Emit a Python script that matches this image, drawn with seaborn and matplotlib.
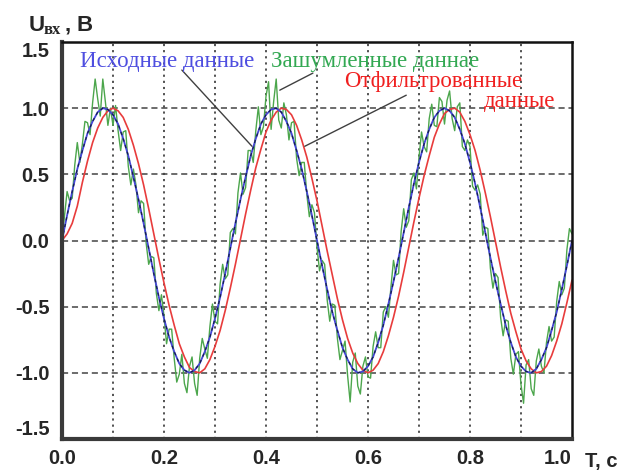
import numpy as np
import pandas as pd
import matplotlib
matplotlib.use("Agg")
import matplotlib.pyplot as plt
import seaborn as sns

# values, 0.01 s step (blue, red) and 0.005 s step (green)
source = [0.00, 0.19, 0.37, 0.54, 0.68, 0.81, 0.90, 0.97, 1.00, 0.99,
          0.95, 0.88, 0.77, 0.64, 0.48, 0.31, 0.13, -0.06, -0.25, -0.43,
          -0.59, -0.73, -0.84, -0.93, -0.98, -1.00, -0.98, -0.93, -0.84, -0.73,
          -0.59, -0.43, -0.25, -0.06, 0.13, 0.31, 0.48, 0.64, 0.77, 0.88,
          0.95, 0.99, 1.00, 0.97, 0.90, 0.81, 0.68, 0.54, 0.37, 0.19,
          0.00, -0.19, -0.37, -0.54, -0.68, -0.81, -0.90, -0.97, -1.00, -0.99,
          -0.95, -0.88, -0.77, -0.64, -0.48, -0.31, -0.13, 0.06, 0.25, 0.43,
          0.59, 0.73, 0.84, 0.93, 0.98, 1.00, 0.98, 0.93, 0.84, 0.73,
          0.59, 0.43, 0.25, 0.06, -0.13, -0.31, -0.48, -0.64, -0.77, -0.88,
          -0.95, -0.99, -1.00, -0.97, -0.90, -0.81, -0.68, -0.54, -0.37, -0.19,
          0.00]

filtered = [0.00, 0.05, 0.13, 0.26, 0.44, 0.60, 0.74, 0.85, 0.93, 0.98,
            1.00, 0.98, 0.93, 0.84, 0.72, 0.58, 0.42, 0.24, 0.05, -0.14,
            -0.32, -0.49, -0.64, -0.78, -0.88, -0.96, -0.99, -1.00, -0.97, -0.90,
            -0.80, -0.68, -0.53, -0.36, -0.18, 0.01, 0.20, 0.38, 0.55, 0.69,
            0.82, 0.91, 0.97, 1.00, 0.99, 0.95, 0.87, 0.76, 0.63, 0.47,
            0.30, 0.11, -0.08, -0.26, -0.44, -0.60, -0.74, -0.85, -0.93, -0.98,
            -1.00, -0.98, -0.93, -0.84, -0.72, -0.58, -0.42, -0.24, -0.05, 0.14,
            0.32, 0.49, 0.64, 0.78, 0.88, 0.96, 0.99, 1.00, 0.97, 0.90,
            0.80, 0.68, 0.53, 0.36, 0.18, -0.01, -0.20, -0.38, -0.55, -0.69,
            -0.82, -0.91, -0.97, -1.00, -0.99, -0.95, -0.87, -0.76, -0.63, -0.47,
            -0.30]

noisy = [0.00, 0.19, 0.37, 0.30, 0.32, 0.57, 0.74, 0.59, 0.73, 0.90,
         0.89, 0.80, 1.04, 1.22, 1.07, 0.94, 1.22, 1.05, 0.87, 1.00,
         0.87, 1.02, 0.83, 0.68, 0.82, 0.83, 0.56, 0.42, 0.54, 0.42,
         0.21, 0.30, 0.28, -0.02, -0.18, -0.12, -0.13, -0.40, -0.53, -0.41,
         -0.57, -0.78, -0.67, -0.67, -0.89, -1.07, -1.01, -0.86, -1.08, -1.15,
         -0.95, -0.88, -1.08, -1.17, -0.89, -0.74, -0.82, -0.89, -0.65, -0.48,
         -0.61, -0.63, -0.33, -0.18, -0.29, -0.26, 0.06, 0.09, 0.05, 0.36,
         0.51, 0.35, 0.40, 0.68, 0.68, 0.59, 0.83, 1.01, 0.80, 0.86,
         1.09, 1.20, 0.84, 1.05, 1.22, 0.91, 0.85, 1.04, 0.95, 0.76,
         0.89, 0.90, 0.62, 0.49, 0.59, 0.59, 0.35, 0.18, 0.27, 0.21,
         -0.05, -0.23, -0.15, -0.18, -0.45, -0.61, -0.48, -0.49, -0.74, -0.90,
         -0.83, -0.76, -1.02, -1.22, -0.92, -0.85, -1.10, -1.16, -0.95, -0.88,
         -1.03, -1.04, -0.80, -0.69, -0.81, -0.81, -0.54, -0.50, -0.58, -0.35,
         -0.15, -0.26, -0.25, 0.07, 0.24, 0.10, 0.15, 0.46, 0.51, 0.39,
         0.63, 0.82, 0.71, 0.67, 0.92, 1.03, 0.87, 0.86, 1.08, 1.05,
         0.88, 1.06, 1.13, 0.92, 0.83, 1.01, 1.04, 0.71, 0.68, 0.76,
         0.71, 0.41, 0.38, 0.42, 0.35, 0.04, 0.10, 0.09, -0.21, -0.36,
         -0.25, -0.28, -0.58, -0.72, -0.60, -0.61, -0.89, -1.01, -0.86, -0.84,
         -1.09, -1.23, -0.94, -0.90, -1.12, -1.17, -0.91, -0.82, -0.95, -1.00,
         -0.77, -0.65, -0.76, -0.73, -0.46, -0.31, -0.41, -0.36, -0.07, 0.09,
         0.05]

x_ticks = [0.0, 0.2, 0.4, 0.6, 0.8, 1.0]
y_ticks = [-1.5, -1.0, -0.5, 0.0, 0.5, 1.0, 1.5]

t_coarse = np.linspace(0, 1, len(source))
t_fine = np.linspace(0, 1, len(noisy))

sns.set_style("white")
plt.rcParams["font.family"] = ["Liberation Sans", "DejaVu Sans"]

fig = plt.figure(figsize=(6.22, 4.75), dpi=100)
ax = fig.add_axes([62 / 622, 1 - 439 / 475, 510 / 622, 397 / 475])

# grid: dotted verticals every 0.1, dashed horizontals every 0.5
for gx in np.arange(1, 10) / 10:
    ax.axvline(gx, color="#444444", lw=1.3, ls=(0, (1.2, 2.2)), zorder=0)
for gy in [-1.0, -0.5, 0.0, 0.5, 1.0]:
    ax.axhline(gy, color="#444444", lw=1.1, ls=(0, (4, 2.5)), zorder=0)

sns.lineplot(x=t_fine, y=noisy, ax=ax, color="#4ca64c", lw=1.0, zorder=2)
sns.lineplot(x=t_coarse, y=filtered, ax=ax, color="#e83c3c", lw=1.2, zorder=3)
sns.lineplot(x=t_coarse, y=source, ax=ax, color="#4646d8", lw=1.3, zorder=4)
sns.lineplot(x=t_coarse, y=source, ax=ax, color="#15204a", lw=0.9,
             ls=(0, (2.5, 3)), zorder=5)

ax.set_xlim(0, 1)
ax.set_ylim(-1.5, 1.5)
ax.set_xticks(x_ticks)
ax.set_yticks(y_ticks)
ax.set_xticklabels([f"{v:.1f}" for v in x_ticks])
ax.set_yticklabels([f"{v:.1f}" for v in y_ticks])
ax.tick_params(length=0, labelsize=14.5, pad=7)
ax.tick_params(axis="y", pad=9)
for lab in ax.get_xticklabels() + ax.get_yticklabels():
    lab.set_fontweight("bold")
ax.get_xticklabels()[-1].set_horizontalalignment("right")
ax.get_yticklabels()[-1].set_verticalalignment("top")
ax.get_yticklabels()[0].set_verticalalignment("bottom")
ax.set_xlabel("")
ax.set_ylabel("")

for side in ["left", "bottom"]:
    ax.spines[side].set_linewidth(3)
    ax.spines[side].set_color("#3a3a3a")
for side in ["top", "right"]:
    ax.spines[side].set_linewidth(1.8)
    ax.spines[side].set_color("#111111")
for sp in ax.spines.values():
    sp.set_zorder(6)

# labels of the series with leader lines
serif = ["Liberation Serif", "DejaVu Serif"]
ax.plot([0.235, 0.3725], [1.288, 0.712], color="#404040", lw=1.0, zorder=6)
ax.plot([0.427, 0.492], [1.136, 1.265], color="#404040", lw=1.0, zorder=6)
ax.plot([0.476, 0.675], [0.712, 1.098], color="#404040", lw=1.0, zorder=6)
ax.text(0.035, 1.31, "Исходные данные", color="#4e4ee0", fontsize=16.5,
        family=serif, va="baseline", zorder=7)
ax.text(0.41, 1.31, "Зашумленные даннае", color="#32a852", fontsize=16.5,
        family=serif, va="baseline", zorder=7)
ax.text(0.553, 1.16, "Отфильтрованные", color="#f02020", fontsize=16.5,
        family=serif, va="baseline", zorder=7)
ax.text(0.968, 1.01, "данные", color="#f02020", fontsize=16.5,
        family=serif, va="baseline", ha="right", zorder=7)

# axis titles
fig.text(29 / 622, 1 - 31 / 475, "U", fontsize=16, fontweight="bold", va="baseline")
fig.text(44 / 622, 1 - 34 / 475, "вх", fontsize=12, fontweight="bold",
         family=serif, va="baseline")
fig.text(65 / 622, 1 - 31 / 475, ",", fontsize=16, fontweight="bold", va="baseline")
fig.text(76 / 622, 1 - 31 / 475, "B", fontsize=16, fontweight="bold", va="baseline")
fig.text(585 / 622, 1 - 467 / 475, "T, c", fontsize=14.5, fontweight="bold", va="baseline")

fig.savefig("out.png", dpi=100)
